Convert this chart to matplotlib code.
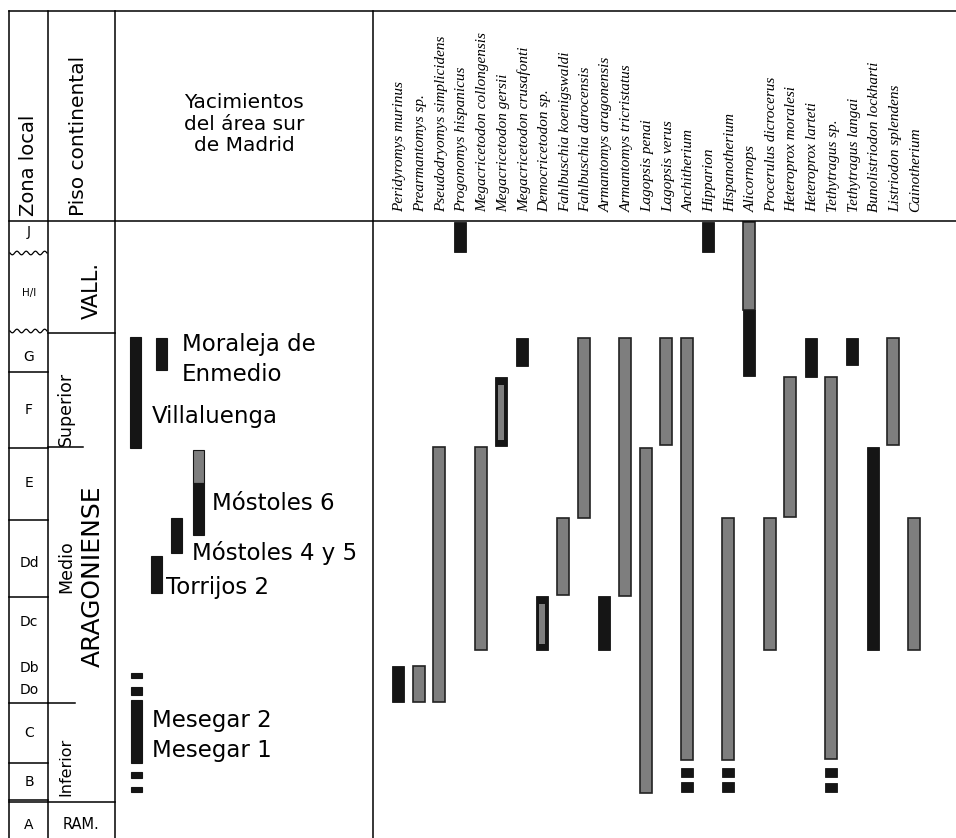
import numpy as np
import matplotlib
matplotlib.use("Agg")
import matplotlib.pyplot as plt

plt.rcParams["font.family"] = ["DejaVu Sans"]

# especies de la cabecera (una columna cada una)
especies = [
    "Peridyromys murinus", "Prearmantomys sp.", "Pseudodryomys simplicidens",
    "Progonomys hispanicus", "Megacricetodon collongensis", "Megacricetodon gersii",
    "Megacricetodon crusafonti", "Democricetodon sp.", "Fahlbuschia koenigswaldi",
    "Fahlbuschia darocensis", "Armantomys aragonensis", "Armantomys tricristatus",
    "Lagopsis penai", "Lagopsis verus", "Anchitherium", "Hipparion", "Hispanotherium",
    "Alicornops", "Procerulus dicrocerus", "Heteroprox moralesi", "Heteroprox larteti",
    "Tethytragus sp.", "Tethytragus langai", "Bunolistriodon lockharti",
    "Listriodon splendens", "Cainotherium",
]

# rangos de cada especie (nivel superior / inferior en la escala de la figura)
# tipo: k = negro, g = gris, gk = gris con borde negro
seg_especie = [0, 1, 2, 3, 4, 5, 6, 7, 8, 9, 10, 11, 12, 13,
               14, 14, 14, 15, 16, 16, 16, 17, 17, 18, 19, 20,
               21, 21, 21, 22, 23, 24, 25]
seg_ini = [666, 666, 447, 222, 447, 377, 338, 596, 518, 338, 596, 338, 448, 338,
           338, 768, 782, 222, 518, 768, 782, 222, 310, 518, 377, 338,
           377, 768, 783, 338, 447, 338, 518]
seg_fin = [702, 702, 702, 252, 650, 446, 366, 650, 595, 518, 650, 596, 793, 445,
           760, 777, 792, 252, 760, 777, 792, 310, 376, 650, 517, 377,
           759, 777, 792, 365, 650, 445, 650]
seg_tipo = ["k", "g", "g", "k", "g", "gk", "k", "gk", "g", "g", "k", "g", "g", "g",
            "g", "k", "k", "k", "g", "k", "k", "g", "k", "g", "g", "k",
            "g", "k", "k", "k", "k", "g", "g"]

# yacimientos
yac_x = [136, 162, 199, 199, 177, 157, 137, 137, 137, 137, 137]
yac_ini = [337, 338, 450, 483, 518, 556, 673, 687, 700, 772, 787]
yac_fin = [448, 370, 483, 535, 553, 593, 678, 695, 763, 778, 792]
yac_tipo = ["k", "k", "g", "k", "k", "k", "k", "k", "k", "k", "k"]

yac_nombres = ["Moraleja de", "Enmedio", "Villaluenga", "Móstoles 6",
               "Móstoles 4 y 5", "Torrijos 2", "Mesegar 2", "Mesegar 1"]
yac_tx = [182, 182, 152, 212, 192, 166, 152, 152]
yac_ty = [344, 374, 416, 503, 553, 587, 720, 750]

# zonas locales
zonas = ["J", "H/I", "G", "F", "E", "Dd", "Dc", "Db", "Do", "C", "B", "A"]
zonas_y = [232, 293, 357, 410, 483, 563, 622, 668, 690, 733, 782, 825]

NEGRO = "#151515"
GRIS = "#7e7e7e"

fig = plt.figure(figsize=(9.56, 8.38), dpi=100)
ax = fig.add_axes([0, 0, 1, 1])
ax.set_xlim(0, 956)
ax.set_ylim(838, 0)
ax.axis("off")

lw = 1.1
# marco
ax.plot([9, 956], [11, 11], color="k", lw=lw)
ax.plot([9, 956], [221, 221], color="k", lw=lw)
for x in [9, 48, 115, 373]:
    ax.plot([x, x], [11, 838], color="k", lw=lw)

# limites de zonas
for y in [372, 448, 520, 597, 703, 763, 800]:
    ax.plot([9, 48], [y, y], color="k", lw=lw)
ax.plot([9, 115], [802, 802], color="k", lw=lw)
ax.plot([48, 115], [333, 333], color="k", lw=lw)
ax.plot([48, 83], [447, 447], color="k", lw=lw)
ax.plot([48, 75], [703, 703], color="k", lw=lw)

# limites ondulados
xs = np.linspace(10, 47, 80)
for y in [253, 331]:
    ax.plot(xs, y + 1.8 * np.sin((xs - 10) / 37 * 4 * 2 * np.pi), color="k", lw=0.9)

# textos de cabecera
ax.text(29, 216, "Zona local", rotation=90, ha="center", va="bottom", fontsize=14)
ax.text(79, 216, "Piso continental", rotation=90, ha="center", va="bottom", fontsize=14.5)
ax.text(244, 124, "Yacimientos\ndel área sur\nde Madrid", ha="center", va="center",
        fontsize=14.5, linespacing=1.15)

for nombre, y in zip(zonas, zonas_y):
    ax.text(29, y, nombre, ha="center", va="center",
            fontsize=7.5 if nombre == "H/I" else 10)

ax.text(92, 290, "VALL.", rotation=90, ha="center", va="center", fontsize=15)
ax.text(66, 409, "Superior", rotation=90, ha="center", va="center", fontsize=12.5)
ax.text(66, 567, "Medio", rotation=90, ha="center", va="center", fontsize=12.5)
ax.text(93, 576, "ARAGONIENSE", rotation=90, ha="center", va="center", fontsize=18)
ax.text(66, 767, "Inferior", rotation=90, ha="center", va="center", fontsize=11.5)
ax.text(81, 824, "RAM.", ha="center", va="center", fontsize=10.5)

# barras de yacimientos
for x, a, b, t in zip(yac_x, yac_ini, yac_fin, yac_tipo):
    ax.bar(x, b - a, bottom=a, width=11, color=NEGRO if t == "k" else GRIS,
           edgecolor=NEGRO, linewidth=0.8)
for nombre, x, y in zip(yac_nombres, yac_tx, yac_ty):
    ax.text(x, y, nombre, ha="left", va="center", fontsize=16.5)

# columnas de especies
x0, paso = 398, 20.64
for i, nombre in enumerate(especies):
    ax.text(x0 + i * paso + 2, 212, nombre, rotation=90, ha="center", va="bottom",
            family="Liberation Serif", style="italic", fontsize=11)

for i, a, b, t in zip(seg_especie, seg_ini, seg_fin, seg_tipo):
    x = x0 + i * paso
    if t == "k":
        ax.bar(x, b - a, bottom=a, width=12, color=NEGRO, edgecolor=NEGRO, linewidth=0.6)
    elif t == "g":
        ax.bar(x, b - a, bottom=a, width=12, color=GRIS, edgecolor="#222222", linewidth=1.2)
    else:
        ax.bar(x, b - a, bottom=a, width=12, color=NEGRO, edgecolor=NEGRO, linewidth=0.6)
        ax.bar(x, b - a - 14, bottom=a + 8, width=6, color=GRIS, linewidth=0)

fig.savefig("out.png", dpi=100)
